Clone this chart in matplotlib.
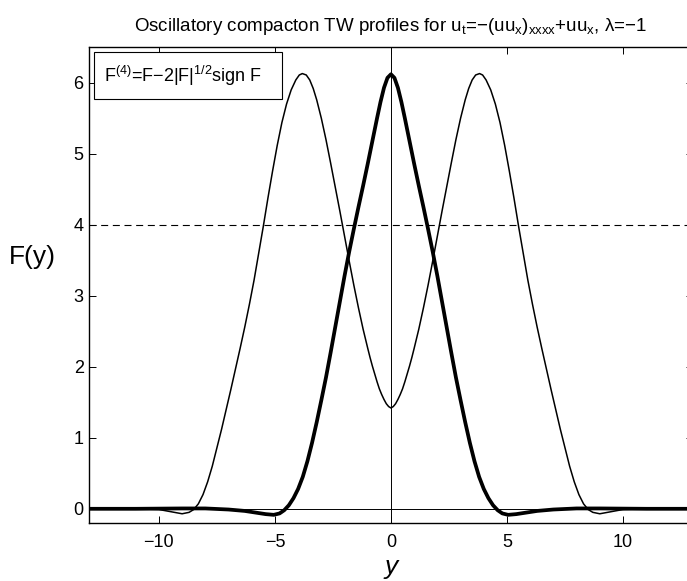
import numpy as np
import matplotlib
matplotlib.use('Agg')
import matplotlib.pyplot as plt
from matplotlib.patches import Rectangle

plt.rcParams['font.family'] = ['Liberation Sans', 'DejaVu Sans']
plt.rcParams['mathtext.default'] = 'regular'

# left half of each profile (y <= 0); curves are symmetric
thick_y = [-13, -11, -9, -8, -7, -6.3, -5.8, -5.4, -5.05, -4.8, -4.6, -4.4, -4.2,
           -4.0, -3.8, -3.6, -3.4, -3.2, -3.0, -2.8, -2.6, -2.4, -2.2, -2.0, -1.8,
           -1.6, -1.4, -1.2, -1.0, -0.8, -0.6, -0.45, -0.3, -0.15, 0]
thick_F = [0, 0, 0.005, 0.005, -0.01, -0.03, -0.055, -0.075, -0.085, -0.065, -0.02,
           0.05, 0.15, 0.28, 0.45, 0.67, 0.93, 1.22, 1.53, 1.85, 2.2, 2.56, 2.92,
           3.28, 3.62, 3.94, 4.25, 4.55, 4.86, 5.18, 5.5, 5.73, 5.93, 6.07, 6.12]

thin_y = [-13, -11, -10, -9.5, -9.0, -8.7, -8.5, -8.3, -8.1, -7.9, -7.7, -7.5, -7.3,
          -7.1, -6.9, -6.7, -6.5, -6.3, -6.1, -5.9, -5.7, -5.5, -5.3, -5.1, -4.9,
          -4.7, -4.5, -4.3, -4.1, -3.95, -3.82, -3.65, -3.5, -3.35, -3.2, -3.0,
          -2.8, -2.6, -2.4, -2.2, -2.0, -1.8, -1.6, -1.4, -1.2, -1.0, -0.9, -0.8,
          -0.7, -0.6, -0.5, -0.4, -0.3, -0.2, -0.1, 0]
thin_F = [0, 0, -0.01, -0.04, -0.07, -0.05, -0.01, 0.07, 0.2, 0.38, 0.6, 0.86, 1.12,
          1.4, 1.68, 1.97, 2.26, 2.56, 2.88, 3.22, 3.6, 3.98, 4.38, 4.76, 5.12,
          5.44, 5.7, 5.9, 6.04, 6.11, 6.13, 6.11, 6.04, 5.92, 5.76, 5.5,
          5.2, 4.87, 4.53, 4.19, 3.84, 3.49, 3.15, 2.83, 2.53, 2.26, 2.13, 2.01,
          1.9, 1.79, 1.69, 1.61, 1.54, 1.48, 1.44, 1.42]

level = 4.0


def mirror(xs, ys):
    xs = np.asarray(xs, float)
    ys = np.asarray(ys, float)
    return np.concatenate([xs, -xs[-2::-1]]), np.concatenate([ys, ys[-2::-1]])


fig = plt.figure(figsize=(6.87, 5.81), dpi=100)
ax = fig.add_axes([89.3 / 687, 58 / 581, 603.3 / 687, 475.7 / 581])

ax.axhline(0, color='k', lw=0.7)
ax.axvline(0, color='k', lw=0.7)
ax.axhline(level, color='k', lw=0.8, dashes=(6.3, 4.2))

x1, f1 = mirror(thin_y, thin_F)
ax.plot(x1, f1, color='k', lw=1.1, solid_joinstyle='round')
x2, f2 = mirror(thick_y, thick_F)
ax.plot(x2, f2, color='k', lw=2.7, solid_joinstyle='round')

ax.set_xlim(-13, 13)
ax.set_ylim(-0.2, 6.5)
ax.set_xticks([-10, -5, 0, 5, 10])
ax.set_yticks([0, 1, 2, 3, 4, 5, 6])
ax.tick_params(direction='in', top=True, right=True, labelsize=13, length=5, width=0.7)
ax.tick_params(axis='x', pad=8)
ax.tick_params(axis='y', pad=4)
for s in ax.spines.values():
    s.set_linewidth(1.0)

ax.set_title('Oscillatory compacton TW profiles for u$_t$=\u2212(uu$_x$)$_{xxxx}$+uu$_x$, '
             '\u03bb=\u22121', fontsize=13.5, pad=12)
ax.set_xlabel('y', fontsize=19, style='italic', labelpad=3)
ax.set_ylabel('F(y)', fontsize=19, rotation=0, va='center', ha='center')
ax.yaxis.set_label_coords(-0.095, 0.56)

# legend-like box
ax.add_patch(Rectangle((0.0078, 0.8913), 0.3116, 0.0982, transform=ax.transAxes,
                       facecolor='white', edgecolor='k', lw=0.8, zorder=5))
ax.text(0.024, 0.9407, 'F$^{(4)}$=F\u22122|F|$^{1/2}$sign F',
        transform=ax.transAxes, fontsize=13, va='center', ha='left', zorder=6)

fig.savefig('out.png', dpi=100)
